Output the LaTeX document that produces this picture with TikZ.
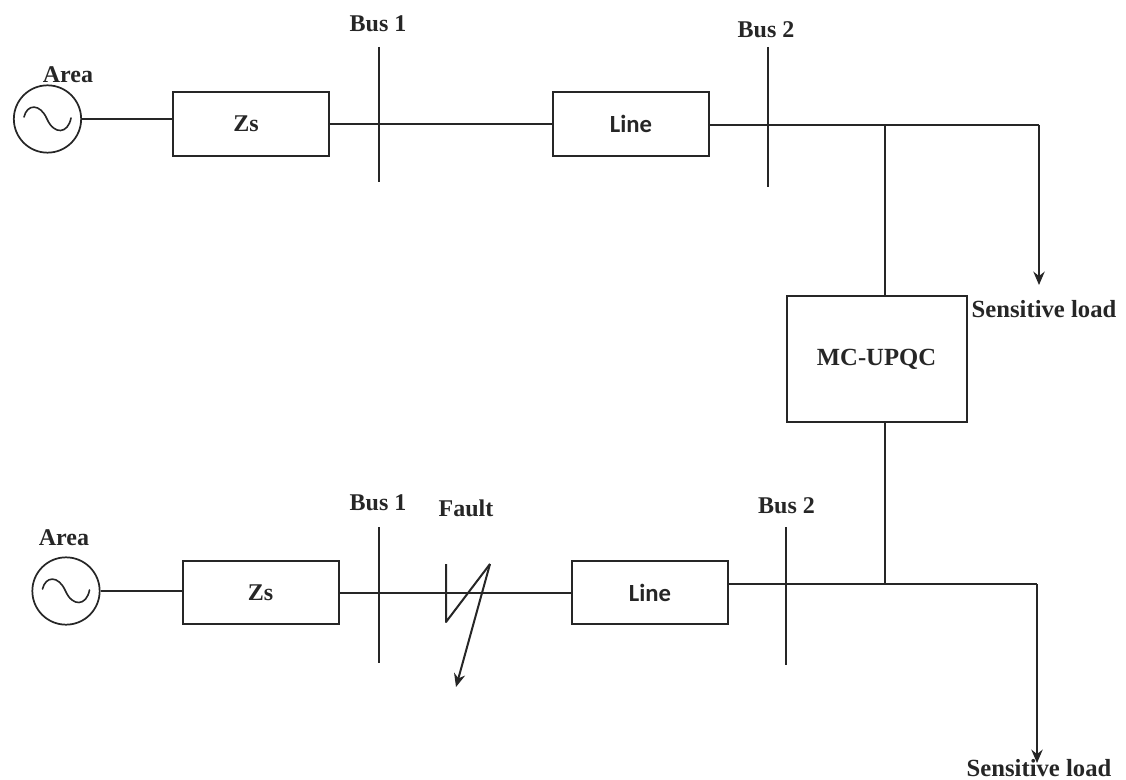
\documentclass[tikz,border=0pt]{standalone}
\usepackage{fontspec}
\setmainfont{Liberation Serif}
\newfontfamily\boxfont{Carlito}
\usetikzlibrary{arrows.meta}
\tikzset{
  wire/.style={draw=black!85,line width=1.5pt},
  blockbox/.style={draw=black!85,line width=1.5pt,fill=white,minimum height=47.5pt,minimum width=117pt,inner sep=0pt},
  src/.style={circle,draw=black!85,line width=1.3pt,minimum size=50.5pt,inner sep=0pt},
  lab/.style={font=\bfseries\fontsize{18}{18}\selectfont,text=black!85,inner sep=0pt},
  slab/.style={font=\bfseries\fontsize{18.5}{18.5}\selectfont,text=black!85,inner sep=0pt},
  zlab/.style={font=\bfseries\fontsize{18}{18}\selectfont,text=black!85},
  blab/.style={font=\boxfont\bfseries\fontsize{18.5}{18.5}\selectfont,text=black!85},
  arr/.style={wire,-{Stealth[length=10pt,width=8.5pt]}},
  sine/.style={draw=black!85,line width=1.2pt,line cap=round}
}
\begin{document}
\begin{tikzpicture}[x=0.75pt,y=-0.75pt]
\useasboundingbox (0,0) rectangle (1126,780);
% upper
\node[src] (s1) at (47.5,119) {};
\draw[sine] (24,117) .. controls (27,104) and (40,103) .. (47,119) .. controls (54,135) and (68,134) .. (71,118);
\node[lab] (a1) at (68,75) {Area};
\node[blockbox,zlab] (z1) at (251,124) {Zs\kern7.5pt};
\node[blockbox,blab] (l1) at (631,124) {Line};
\coordinate (b1t) at (379,47); \coordinate (b1b) at (379,182);
\coordinate (b2t) at (768,47); \coordinate (b2b) at (768,187);
\draw[wire] (b1t) -- (b1b);
\draw[wire] (b2t) -- (b2b);
\node[lab] (bl1) at (378,24) {Bus 1};
\node[lab] (bl2) at (766,30) {Bus 2};
\coordinate (j1) at (885,125);
\coordinate (c1) at (1039,125);
\coordinate (e1) at (1039,285);
\draw[wire] (s1.east) -- (z1.west |- s1.east);
\draw[wire] (z1.east) -- (l1.west);
\draw[wire] (l1.east |- j1) -- (j1) -- (c1);
\draw[arr] (c1) -- (e1);
\node[slab] (sl1) at (1044,309) {Sensitive load};
\node[draw=black!85,line width=1.5pt,minimum width=135pt,minimum height=94pt,inner sep=0pt,font=\bfseries\fontsize{18.5}{18.5}\selectfont,text=black!85] (m) at (876.5,359) {MC-UPQC};
\draw[wire] (j1) -- (j1 |- m.north);
% lower
\node[src] (s2) at (66,591) {};
\draw[sine] (42.5,589) .. controls (45.5,576) and (58.5,575) .. (65.5,591) .. controls (72.5,607) and (86.5,606) .. (89.5,590);
\node[lab] (a2) at (64,538) {Area};
\node[blockbox,zlab] (z2) at (260.5,592.5) {Zs};
\node[blockbox,blab] (l2) at (650,592.5) {Line};
\coordinate (b3t) at (379,527); \coordinate (b3b) at (379,663);
\coordinate (b4t) at (786,527); \coordinate (b4b) at (786,665);
\draw[wire] (b3t) -- (b3b);
\draw[wire] (b4t) -- (b4b);
\node[lab] (bl3) at (378,503) {Bus 1};
\node[lab] (bl4) at (786.5,506) {Bus 2};
\node[lab] (f) at (466,508) {Fault};
\coordinate (j2) at (885,584);
\coordinate (c2) at (1037,584);
\coordinate (e2) at (1037,763);
\draw[wire] (s2.east) -- (z2.west |- s2.east);
\draw[wire] (z2.east) -- (l2.west);
\draw[wire] (l2.east |- j2) -- (j2) -- (c2);
\draw[arr] (c2) -- (e2);
\node[slab] (sl2) at (1039,768) {Sensitive load};
\draw[wire] (m.south -| j2) -- (j2);
\coordinate (f1) at (446,564); \coordinate (f2) at (446,622); \coordinate (f3) at (490,564); \coordinate (f4) at (456,687);
\draw[wire,line join=round] (f1) -- (f2) -- (f3);
\draw[arr] (f3) -- (f4);
\end{tikzpicture}
\end{document}
